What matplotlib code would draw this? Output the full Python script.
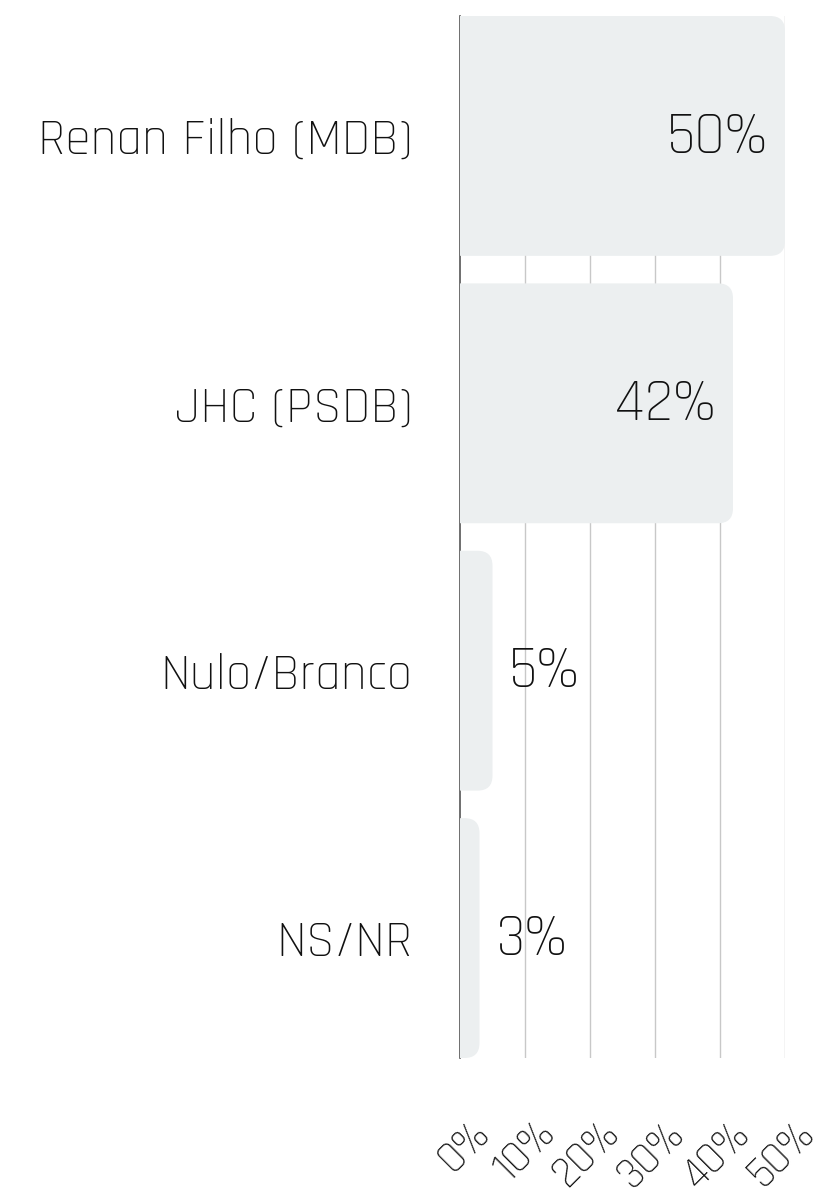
import matplotlib
matplotlib.use("Agg")
import matplotlib.pyplot as plt
import matplotlib.transforms as mtransforms
from matplotlib.patches import FancyBboxPatch

# data
labels = ["Renan Filho (MDB)", "JHC (PSDB)", "Nulo/Branco", "NS/NR"]
values = [50, 42, 5, 3]
xticks = [0, 10, 20, 30, 40, 50]

FONT = ["Rajdhani", "DejaVu Sans"]
BAR_COLOR = "#eceff0"
BAR_H = 0.897
RADIUS = 2.3            # corner radius in x data units

W, H = 822, 1201
fig = plt.figure(figsize=(W / 100, H / 100), dpi=100)
ax = fig.add_axes([460 / W, 1 - 1058 / H, 325 / W, 1042 / H])

ax.set_xlim(0, 50)
ax.set_ylim(len(labels) - 1 + BAR_H / 2, -BAR_H / 2)

# px per unit, used to keep corner rounding circular
px_x = 325 / 50
px_y = 1042 / (len(labels) - 1 + BAR_H)

for i, v in enumerate(values):
    # start left of 0 so that the left corners get clipped away
    box = FancyBboxPatch((-RADIUS, i - BAR_H / 2), v + RADIUS, BAR_H,
                         boxstyle=f"round,pad=0,rounding_size={RADIUS}",
                         mutation_aspect=px_x / px_y,
                         facecolor=BAR_COLOR, edgecolor="none", zorder=2,
                         clip_on=True)
    ax.add_patch(box)

    if v > 20:
        off = mtransforms.ScaledTranslation(-17 / 100, 0, fig.dpi_scale_trans)
        ax.text(v, i, f"{v}%", ha="right", va="center", fontsize=43,
                family=FONT, weight="light", color="#111111", zorder=3,
                transform=ax.transData + off)
    else:
        off = mtransforms.ScaledTranslation(16 / 100, 0, fig.dpi_scale_trans)
        ax.text(v, i, f"{v}%", ha="left", va="center", fontsize=43,
                family=FONT, weight="light", color="#111111", zorder=3,
                transform=ax.transData + off)

# grid
for t in xticks[1:]:
    ax.axvline(t, color="#c8c8c8", linewidth=1, zorder=1)

for s in ["top", "right", "bottom"]:
    ax.spines[s].set_visible(False)
ax.spines["left"].set_color("#555555")
ax.spines["left"].set_linewidth(1.2)
ax.spines["left"].set_zorder(1)

ax.set_yticks(range(len(labels)))
ax.set_yticklabels(labels, fontsize=37, family=FONT, weight="light",
                   color="#111111")
ax.tick_params(axis="y", length=0, pad=34)
ax.set_xticks([])

# rotated x tick labels
blend = mtransforms.blended_transform_factory(ax.transData, fig.transFigure)
for t in xticks:
    off = mtransforms.ScaledTranslation(22 / 100, 0, fig.dpi_scale_trans)
    ax.text(t, 1 - 1126 / H, f"{t}%", rotation=45, rotation_mode="anchor",
            ha="right", va="center", fontsize=32, family=FONT, weight="light",
            color="#111111", transform=blend + off, clip_on=False)

fig.savefig("out.png", dpi=100)
